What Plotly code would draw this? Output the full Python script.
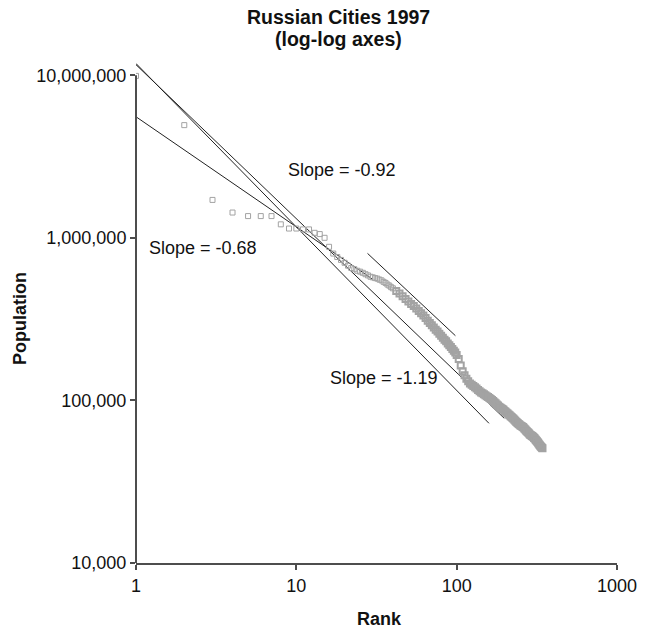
import plotly.graph_objects as go

# ---------------- data ----------------
ranks = [1, 2, 3, 4, 5, 6, 7, 8, 9, 10, 11, 12, 13, 14, 15, 16, 17, 18, 19, 20,
         21, 22, 23, 24, 25, 26, 27, 28, 29, 30, 31, 32, 33, 34, 35, 36, 37, 38, 39, 40,
         42, 44, 46, 48, 50, 52, 54, 56, 58, 60, 62, 64, 66, 68, 70, 72, 74, 76, 78, 80,
         82, 84, 86, 88, 90, 92, 94, 96, 98, 100,
         103, 106, 109, 112, 115, 118, 121, 124, 127, 130, 133, 136, 139, 142, 145, 148,
         151, 154, 157, 160, 163, 166, 169, 172, 175, 178, 181, 184, 187, 190, 193, 196,
         199, 202, 205, 208, 211, 214, 217, 220, 223, 226, 229, 232, 235, 238, 241, 244,
         247, 250, 253, 256, 259, 262, 265, 268, 271, 274, 277, 280, 283, 286, 289, 292,
         295, 298, 301, 304, 307, 310, 313, 316, 319, 322, 325, 328, 331, 334, 337, 340, 343]
population = [9900000, 4930000, 1710000, 1430000, 1360000, 1360000, 1360000, 1210000, 1140000, 1140000,
              1126000, 1126000, 1073000, 1054000, 1000000, 880000, 800000, 762000, 731000, 702000,
              674000, 652000, 641000, 627000, 619000, 609000, 597000, 587000, 576000, 571000,
              565000, 561000, 553000, 547000, 536000, 528000, 516000, 508000, 497000, 489000,
              471000, 454000, 437000, 421000, 406000, 392000, 380000, 367000, 355000, 344000,
              333000, 321000, 309000, 299000, 290000, 281000, 272000, 265000, 257000, 250000,
              243000, 236000, 231000, 224000, 218000, 213000, 207000, 202000, 197000, 190000,
              180000, 164000, 151000, 143000, 136000, 131000, 127000, 125000, 122500, 120500,
              118500, 116000, 114000, 112000, 110500, 109000, 107500, 106000, 105000, 103500,
              102000, 100500, 99000, 97500, 96000, 94500, 93000, 91500, 90500, 89500,
              88500, 87500, 86000, 85000, 84000, 83000, 82000, 81000, 80000, 79000,
              78000, 77000, 76000, 75000, 74000, 73200, 72400, 71600, 70800, 70100,
              69500, 69000, 68500, 68000, 67000, 66200, 65400, 64600, 63900, 63200,
              62500, 61800, 61200, 60800, 60400, 60000, 59500, 58800, 58200, 57500,
              56800, 56200, 55500, 54800, 54100, 53400, 52800, 52200, 51700, 51200, 50800]

# fitted lines (end points, rank / population)
fit_a_rank = [1, 159]
fit_a_pop = [11800000, 72300]
fit_b_rank = [1, 198]
fit_b_pop = [11600000, 77600]
fit_c_rank = [1, 30]
fit_c_pop = [5550000, 555000]
fit_d_rank = [27.8, 98.2]
fit_d_pop = [802000, 250000]

x_tickvals = [1, 10, 100, 1000]
x_ticktext = ["1", "10", "100", "1000"]
y_tickvals = [10000, 100000, 1000000, 10000000]
y_ticktext = ["10,000", "100,000", "1,000,000", "10,000,000"]

slope_labels = ["Slope = -0.92", "Slope = -0.68", "Slope = -1.19"]

# ---------------- figure ----------------
FONT = "Liberation Sans, Arial, Helvetica, sans-serif"
AX = "#4d4d4d"
Y_TOP = 7.075
MARK = "#a3a3a3"
SPLIT = 40  # first points are drawn separately (sparse head, dense tail)
FS = 18

fig = go.Figure()

for xr, yr in [(fit_a_rank, fit_a_pop), (fit_b_rank, fit_b_pop),
               (fit_c_rank, fit_c_pop), (fit_d_rank, fit_d_pop)]:
    fig.add_trace(go.Scatter(x=xr, y=yr, mode="lines",
                             line=dict(color="#222222", width=1),
                             showlegend=False, hoverinfo="skip"))

fig.add_trace(go.Scatter(
    x=ranks[:SPLIT], y=population[:SPLIT], mode="markers",
    marker=dict(symbol="square-open", size=5, color=MARK,
                line=dict(width=1, color=MARK)),
    showlegend=False))
fig.add_trace(go.Scatter(
    x=ranks[SPLIT:], y=population[SPLIT:], mode="markers",
    marker=dict(symbol="square-open", size=6, color=MARK,
                line=dict(width=2, color=MARK)),
    showlegend=False))

fig.update_layout(
    width=649, height=628,
    margin=dict(l=136, r=20, t=63, b=65, pad=0),
    paper_bgcolor="white", plot_bgcolor="white",
    font=dict(family=FONT, size=FS, color="#111111"),
    xaxis=dict(type="log", range=[0, 3], showgrid=False, zeroline=False,
               showline=True, linecolor=AX, linewidth=2,
               ticks="outside", ticklen=5, tickwidth=1.5, tickcolor=AX,
               tickvals=x_tickvals, ticktext=x_ticktext,
               ticklabeloverflow="allow",
               tickfont=dict(size=FS)),
    yaxis=dict(type="log", range=[4, Y_TOP], showgrid=False, zeroline=False,
               showline=False,
               ticks="outside", ticklen=5, tickwidth=1.5, tickcolor=AX,
               tickvals=y_tickvals, ticktext=y_ticktext,
               ticklabeloverflow="allow",
               tickfont=dict(size=FS)),
    shapes=[dict(type="line", xref="paper", yref="paper",
                 x0=0, x1=0, y0=0, y1=3 / (Y_TOP - 4),
                 line=dict(color=AX, width=2))],
)

H = 500.0  # plot height px
W = 493.0


def py(ypx):
    return (563 - ypx) / H


def px(xpx):
    return (xpx - 136) / W


annots = [
    dict(text="<b>Russian Cities 1997</b>", x=px(344), y=py(17), size=19.5),
    dict(text="<b>(log-log axes)</b>", x=px(344), y=py(39), size=19.5),
    dict(text="<b>Population</b>", x=px(17), y=py(318), textangle=-90, size=FS),
    dict(text="<b>Rank</b>", x=px(386), y=py(619), size=FS),
    dict(text=slope_labels[0], x=px(347), y=py(170), size=FS),
    dict(text=slope_labels[1], x=px(205), y=py(248), size=FS),
    dict(text=slope_labels[2], x=px(390), y=py(378), size=FS),
]
for a in annots:
    size = a.pop("size")
    fig.add_annotation(xref="paper", yref="paper", showarrow=False,
                       xanchor="center", yanchor="middle",
                       font=dict(family=FONT, size=size, color="#111111"), **a)

fig.write_html("out.html")
